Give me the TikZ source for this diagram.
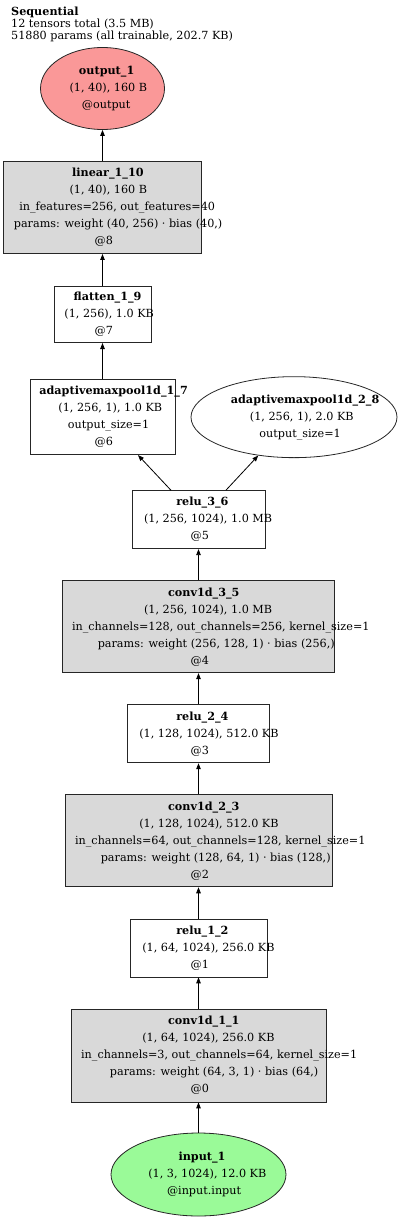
\documentclass[tikz,border=0pt]{standalone}
\usepackage{fontspec}
\setmainfont{DejaVu Serif}
\usepackage{tikz}
\usetikzlibrary{shapes.geometric, arrows.meta, positioning}
\definecolor{laygray}{RGB}{217,217,217}
\definecolor{outred}{RGB}{250,152,152}
\definecolor{ingreen}{RGB}{154,250,152}
\newcommand{\gvl}[1]{\makebox[0.85\width][l]{#1}}
\tikzset{
  %% ---- nodes ----
  layer/.style = {rectangle, draw=black!85, line width=0.8pt,
                  fill=white, inner sep=0pt, align=center,
                  font=\fontsize{11.2}{17}\selectfont},
  oval/.style  = {ellipse, draw=black!85, line width=0.8pt,
                  fill=white, inner sep=0pt, align=center,
                  font=\fontsize{11.2}{17}\selectfont},
  %% ---- arrows ----
  arr/.style   = {-{Triangle[length=6pt, width=4.5pt]}, line width=0.8pt},
}

\begin{document}
\begin{tikzpicture}[x=1pt, y=1pt, node distance=31.25pt]
\useasboundingbox (0,0) rectangle (400,-1220);
\node[anchor=north west, align=left, inner sep=0pt,
      font=\fontsize{11.2}{11.7}\selectfont]     (title) at (11,-7)
  {\textbf{Sequential}\\12 tensors total (3.5 MB)\\51880 params (all trainable, 202.7 KB)};

\node[oval, fill=ingreen, minimum width=175pt, minimum height=83pt]
      (input1) at (198.5,-1174.5)
  {\gvl{\textbf{input\_1}}\\\gvl{(1, 3, 1024), 12.0 KB}\\\gvl{@input.input}};
\node[layer, fill=laygray, minimum width=255pt, minimum height=93pt,
      above=30.25pt of input1]                    (conv1)
  {\gvl{\textbf{conv1d\_1\_1}}\\\gvl{(1, 64, 1024), 256.0 KB}\\
   \gvl{in\_channels=3, out\_channels=64, kernel\_size=1}\\
   \gvl{params: weight (64, 3, 1) · bias (64,)}\\\gvl{@0}};
\node[layer, minimum width=137pt, minimum height=58pt,
      above=of conv1]                             (relu1)
  {\gvl{\textbf{relu\_1\_2}}\\\gvl{(1, 64, 1024), 256.0 KB}\\\gvl{@1}};
\node[layer, fill=laygray, minimum width=267pt, minimum height=92pt,
      above=of relu1]                             (conv2)
  {\gvl{\textbf{conv1d\_2\_3}}\\\gvl{(1, 128, 1024), 512.0 KB}\\
   \gvl{in\_channels=64, out\_channels=128, kernel\_size=1}\\
   \gvl{params: weight (128, 64, 1) · bias (128,)}\\\gvl{@2}};
\node[layer, minimum width=142pt, minimum height=58pt,
      above=of conv2]                             (relu2)
  {\gvl{\textbf{relu\_2\_4}}\\\gvl{(1, 128, 1024), 512.0 KB}\\\gvl{@3}};
\node[layer, fill=laygray, minimum width=272pt, minimum height=92pt,
      above=of relu2]                             (conv3)
  {\gvl{\textbf{conv1d\_3\_5}}\\\gvl{(1, 256, 1024), 1.0 MB}\\
   \gvl{in\_channels=128, out\_channels=256, kernel\_size=1}\\
   \gvl{params: weight (256, 128, 1) · bias (256,)}\\\gvl{@4}};
\node[layer, minimum width=133pt, minimum height=58pt,
      above=of conv3]                             (relu3)
  {\gvl{\textbf{relu\_3\_6}}\\\gvl{(1, 256, 1024), 1.0 MB}\\\gvl{@5}};
\node[layer, minimum width=145pt, minimum height=75pt,
      above=35.25pt of relu3, xshift=-96pt]       (amp1)
  {\gvl{\textbf{adaptivemaxpool1d\_1\_7}}\\\gvl{(1, 256, 1), 1.0 KB}\\
   \gvl{output\_size=1}\\\gvl{@6}};
\node[oval, minimum width=206pt, minimum height=81pt,
      above=32.25pt of relu3, xshift=95.5pt]      (amp2)
  {\gvl{\textbf{adaptivemaxpool1d\_2\_8}}\\\gvl{(1, 256, 1), 2.0 KB}\\
   \gvl{output\_size=1}};
\node[layer, minimum width=97pt, minimum height=56pt,
      above=36.25pt of amp1]                      (flat)
  {\gvl{\textbf{flatten\_1\_9}}\\\gvl{(1, 256), 1.0 KB}\\\gvl{@7}};
\node[layer, fill=laygray, minimum width=198pt, minimum height=92pt,
      above=32.25pt of flat]                      (lin)
  {\gvl{\textbf{linear\_1\_10}}\\\gvl{(1, 40), 160 B}\\
   \gvl{in\_features=256, out\_features=40}\\
   \gvl{params: weight (40, 256) · bias (40,)}\\\gvl{@8}};
\node[oval, fill=outred, minimum width=124pt, minimum height=82pt,
      above=of lin]                               (output1)
  {\gvl{\textbf{output\_1}}\\\gvl{(1, 40), 160 B}\\\gvl{@output}};

\draw[arr] (input1) -- (conv1);
\draw[arr] (conv1)  -- (relu1);
\draw[arr] (relu1)  -- (conv2);
\draw[arr] (conv2)  -- (relu2);
\draw[arr] (relu2)  -- (conv3);
\draw[arr] (conv3)  -- (relu3);
\draw[arr] (relu3)  -- (amp1);
\draw[arr] (relu3)  -- (amp2);
\draw[arr] (amp1)   -- (flat);
\draw[arr] (flat)   -- (lin);
\draw[arr] (lin)    -- (output1);
\end{tikzpicture}
\end{document}
